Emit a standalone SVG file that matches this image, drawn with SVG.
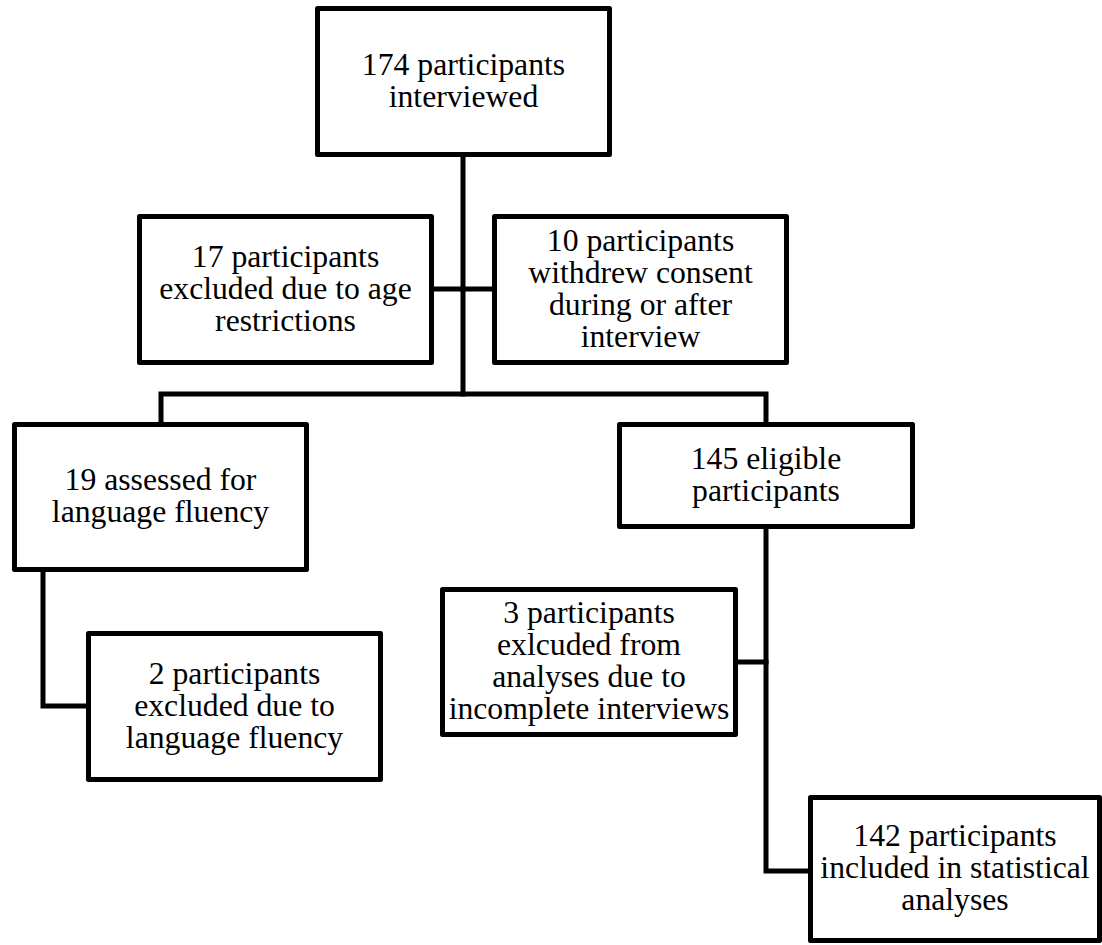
<svg xmlns="http://www.w3.org/2000/svg" width="1102" height="945" viewBox="0 0 1102 945">
<style>
.box{fill:#fff;stroke:#000;stroke-width:5;stroke-linejoin:round}
.ln{fill:none;stroke:#000;stroke-width:5;stroke-linejoin:miter;stroke-linecap:square}
.t{font-family:"Times New Roman","Liberation Serif",Times,serif;font-size:31.7px;fill:#000;text-anchor:middle}
</style>
<rect width="1102" height="945" fill="#fff"/>
<g id="connectors">
<path class="ln" d="M463,157 V394"/>
<path class="ln" d="M434,289 H492"/>
<path class="ln" d="M161,422 V394 H766 V422"/>
<path class="ln" d="M43,572 V706 H86"/>
<path class="ln" d="M766,529 V871 H808"/>
<path class="ln" d="M738,662 H766"/>
</g>
<g id="n174">
<rect class="box" x="317.5" y="8.5" width="292" height="146"/>
<text class="t" x="463.5" y="74.5">174 participants</text>
<text class="t" x="463.5" y="106.5">interviewed</text>
</g>
<g id="n17">
<rect class="box" x="139.5" y="216.5" width="292" height="146"/>
<text class="t" x="285.5" y="266.5">17 participants</text>
<text class="t" x="285.5" y="298.5">excluded due to age</text>
<text class="t" x="285.5" y="330.5">restrictions</text>
</g>
<g id="n10">
<rect class="box" x="494.5" y="216.5" width="292" height="146"/>
<text class="t" x="640.5" y="250.5">10 participants</text>
<text class="t" x="640.5" y="282.5">withdrew consent</text>
<text class="t" x="640.5" y="314.5">during or after</text>
<text class="t" x="640.5" y="346.5">interview</text>
</g>
<g id="n19">
<rect class="box" x="14.5" y="424.5" width="292" height="145"/>
<text class="t" x="160.5" y="490">19 assessed for</text>
<text class="t" x="160.5" y="522">language fluency</text>
</g>
<g id="n145">
<rect class="box" x="619.5" y="424.5" width="293" height="102"/>
<text class="t" x="766" y="468.5">145 eligible</text>
<text class="t" x="766" y="500.5">participants</text>
</g>
<g id="n2">
<rect class="box" x="88.5" y="633.5" width="292" height="146"/>
<text class="t" x="234.5" y="683.5">2 participants</text>
<text class="t" x="234.5" y="715.5">excluded due to</text>
<text class="t" x="234.5" y="747.5">language fluency</text>
</g>
<g id="n3">
<rect class="box" x="442.5" y="589.5" width="293" height="145"/>
<text class="t" x="589" y="623">3 participants</text>
<text class="t" x="589" y="655">exlcuded from</text>
<text class="t" x="589" y="687">analyses due to</text>
<text class="t" x="589" y="719">incomplete interviews</text>
</g>
<g id="n142">
<rect class="box" x="810.5" y="797.5" width="289" height="143"/>
<text class="t" x="955" y="846">142 participants</text>
<text class="t" x="955" y="878">included in statistical</text>
<text class="t" x="955" y="910">analyses</text>
</g>
</svg>
